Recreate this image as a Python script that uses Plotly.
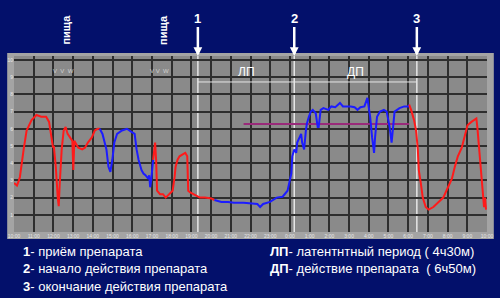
import plotly.graph_objects as go

# ---- data (hours from start of recording, pH) ----
red1_t = [0.0, 0.15, 0.25, 0.30, 0.49, 0.64, 0.89, 1.14, 1.38, 1.63, 1.78, 1.88, 1.98, 2.02, 2.12, 2.22, 2.27, 2.32,
          2.42, 2.52, 2.62, 2.72, 2.86, 2.96, 3.01, 3.06, 3.11, 3.26, 3.46, 3.60, 3.75, 3.95, 4.10, 4.25, 4.35]
red1_ph = [2.85, 2.7, 3.0, 3.2, 4.8, 5.9, 6.5, 6.8, 6.7, 6.7, 6.4, 5.5, 4.9, 5.0, 3.8, 2.0, 1.5, 2.8,
           4.8, 5.9, 6.1, 5.7, 5.5, 5.3, 3.6, 5.3, 5.2, 4.9, 4.8, 4.9, 5.2, 5.5, 5.9, 6.0, 6.0]

blue1_t = [4.35, 4.49, 4.69, 4.79, 4.89, 4.99, 5.09, 5.23, 5.48, 5.73, 5.98, 6.12, 6.22, 6.32, 6.47, 6.57, 6.67,
           6.81, 6.86, 6.91, 6.96, 7.06]
blue1_ph = [6.0, 5.7, 4.8, 3.8, 3.5, 4.2, 5.2, 5.7, 5.9, 6.0, 5.8, 5.7, 4.8, 4.2, 3.6, 3.4, 3.3,
            3.1, 3.3, 2.6, 3.0, 4.2]

red2_t = [7.06, 7.16, 7.21, 7.26, 7.41, 7.56, 7.70, 7.90, 8.05, 8.15, 8.20, 8.30, 8.40, 8.54, 8.69, 8.79, 8.84,
          8.94, 9.19, 9.43, 9.68, 10.02, 10.17]
red2_ph = [4.2, 5.2, 4.2, 2.4, 2.2, 2.2, 2.0, 2.2, 2.4, 3.2, 3.8, 4.2, 4.4, 4.5, 4.6, 4.4, 2.4,
           2.3, 2.15, 2.0, 2.0, 1.95, 1.86]

blue2_t = [10.17, 10.52, 10.86, 11.16, 11.65, 12.0, 12.35, 12.49, 12.64, 12.99, 13.33, 13.63, 13.88, 14.07, 14.12,
           14.22, 14.32, 14.37, 14.47, 14.57, 14.62, 14.72, 14.81, 14.86, 14.96, 15.06, 15.16, 15.31, 15.41, 15.46,
           15.56, 15.70, 15.95, 16.10, 16.30, 16.54, 16.69, 16.94, 17.09, 17.28, 17.43, 17.58, 17.78, 17.93, 18.02,
           18.07, 18.17, 18.27, 18.32, 18.42, 18.57, 18.77, 18.91, 19.06, 19.16, 19.26, 19.31, 19.56, 19.80, 20.0,
           20.05]
blue2_ph = [1.86, 1.75, 1.75, 1.7, 1.7, 1.68, 1.63, 1.45, 1.63, 1.75, 2.0, 2.05, 2.4, 3.4, 4.4,
            4.8, 4.6, 5.2, 5.5, 5.7, 5.2, 4.8, 5.9, 6.3, 6.7, 7.0, 7.1, 6.9, 6.1, 6.1,
            7.1, 7.2, 7.1, 7.3, 7.25, 7.5, 7.3, 7.3, 7.3, 7.25, 7.1, 7.25, 7.3, 7.8, 7.1,
            6.7, 5.5, 4.6, 5.5, 6.7, 7.0, 7.1, 7.0, 6.1, 5.2, 6.4, 7.0, 7.2, 7.3, 7.3,
            7.4]

red3_t = [20.05, 20.15, 20.30, 20.40, 20.49, 20.54, 20.64, 20.74, 20.89, 21.04, 21.28, 21.53, 21.78, 22.02, 22.22,
          22.37, 22.52, 22.72, 22.86, 23.01, 23.21, 23.36, 23.46, 23.51, 23.60, 23.70, 23.75, 23.85, 23.90, 23.95]
red3_ph = [7.4, 7.1, 6.5, 5.9, 4.8, 3.6, 2.85, 2.0, 1.45, 1.3, 1.45, 1.7, 2.0, 2.6, 3.1,
           3.8, 4.4, 4.9, 5.5, 6.2, 6.4, 6.5, 6.6, 6.1, 4.8, 3.2, 2.4, 1.45, 2.0, 1.3]

x_tick_labels = ["10:00", "11:00", "12:00", "13:00", "14:00", "15:00", "16:00", "17:00", "18:00", "19:00",
                 "20:00", "21:00", "22:00", "23:00", "0:00", "1:00", "2:00", "3:00", "4:00", "5:00",
                 "6:00", "7:00", "8:00", "9:00", "10:00"]
y_tick_vals = [1, 2, 3, 4, 5, 6, 7, 8, 9, 10]
y_tick_labels = ["1", "2", "3", "4", "5", "6", "7", "8", "9", "10"]

event_times = [9.33, 14.22, 20.44]      # 1, 2, 3
event_labels = ["1", "2", "3"]
meal_times = [2.62, 7.56]
meal_label = "пища"
level_line = (11.65, 20.05, 6.28)       # purple reference level
period_y = 8.72
period_labels = ["ЛП", "ДП"]

legend_left = ["<b>1</b>- приём препарата",
               "<b>2</b>- начало действия препарата",
               "<b>3</b>- окончание действия препарата"]
legend_right = ["<b>ЛП</b>- латентнтный период ( 4ч30м)",
                "<b>ДП</b>- действие препарата  ( 6ч50м)"]

NAVY = "#03106b"
PLOT_GRAY = "#8a8a8a"
STRIP_GRAY = "#a4a4a4"
RED = "#ff1a1a"
BLUE = "#1c1cff"
FONT = "Liberation Sans, Arial, sans-serif"

fig = go.Figure()
for t, p, c in [(red1_t, red1_ph, RED), (blue1_t, blue1_ph, BLUE), (red2_t, red2_ph, RED),
                (blue2_t, blue2_ph, BLUE), (red3_t, red3_ph, RED)]:
    fig.add_trace(go.Scatter(x=t, y=p, mode="lines", line=dict(color=c, width=2),
                             hoverinfo="skip", showlegend=False))

shapes = []
# light gray border strips around the plot area (paper coords)
for x0, x1, y0, y1 in [(-0.0144, 1.0144, 1.0, 1.017), (-0.0144, 1.0144, -0.040, 0.0),
                       (-0.0144, 0.0, 0.0, 1.0), (1.0, 1.0144, 0.0, 1.0)]:
    shapes.append(dict(type="rect", xref="paper", yref="paper", x0=x0, x1=x1, y0=y0, y1=y1,
                       fillcolor=STRIP_GRAY, line=dict(width=0), layer="below"))
# pH 4 reference line
shapes.append(dict(type="line", xref="paper", yref="y", x0=0, x1=1, y0=4, y1=4,
                   line=dict(color="#d9d9d9", width=1.5), layer="between"))
# event vertical lines
for t in event_times:
    shapes.append(dict(type="line", xref="x", yref="paper", x0=t, x1=t, y0=0, y1=1,
                       line=dict(color="#e6e6e6", width=1.5), layer="between"))
# period lines
shapes.append(dict(type="line", xref="x", yref="y", x0=event_times[0], x1=event_times[2],
                   y0=period_y, y1=period_y, line=dict(color="#e6e6e6", width=1), layer="between"))
# purple level line
shapes.append(dict(type="line", xref="x", yref="y", x0=level_line[0], x1=level_line[1],
                   y0=level_line[2], y1=level_line[2], line=dict(color="#9a2a7a", width=2), layer="between"))

annotations = []
for t, lab in zip(event_times, event_labels):
    annotations.append(dict(x=t, y=1.0, xref="x", yref="paper", text="<b>%s</b>" % lab,
                            showarrow=True, ax=0, ay=-38, arrowcolor="white", arrowwidth=2.5,
                            arrowhead=2, arrowsize=0.7, standoff=0,
                            font=dict(size=13, color="white", family=FONT)))
for t in meal_times:
    annotations.append(dict(x=t, y=1.148, xref="x", yref="paper", text="<b>%s</b>" % meal_label,
                            textangle=-90, showarrow=False, xanchor="center", yanchor="middle",
                            font=dict(size=11, color="white", family=FONT)))
annotations.append(dict(x=(event_times[0] + event_times[1]) / 2, y=9.3, xref="x", yref="y",
                        text=period_labels[0], showarrow=False,
                        font=dict(size=12, color="white", family=FONT)))
annotations.append(dict(x=(event_times[1] + event_times[2]) / 2, y=9.3, xref="x", yref="y",
                        text=period_labels[1], showarrow=False,
                        font=dict(size=12, color="white", family=FONT)))
for t, txt in [(2.5, "V  V  W"), (7.4, "V V  W")]:
    annotations.append(dict(x=t, y=9.35, xref="x", yref="y", text=txt, showarrow=False,
                            font=dict(size=6, color="#d0d0d0", family=FONT)))
for i, txt in enumerate(legend_left):
    annotations.append(dict(x=0.0144, y=[-0.108, -0.210, -0.307][i], xref="paper", yref="paper",
                            text=txt, showarrow=False, xanchor="left", yanchor="middle",
                            font=dict(size=13, color="white", family=FONT)))
for i, txt in enumerate(legend_right):
    annotations.append(dict(x=0.537, y=[-0.108, -0.210][i], xref="paper", yref="paper",
                            text=txt, showarrow=False, xanchor="left", yanchor="middle",
                            font=dict(size=13, color="white", family=FONT)))

fig.update_layout(
    width=500, height=298,
    margin=dict(l=7, r=7, t=56, b=66),
    paper_bgcolor=NAVY, plot_bgcolor=PLOT_GRAY,
    showlegend=False,
    shapes=shapes, annotations=annotations,
    xaxis=dict(range=[0, 24], tickvals=list(range(25)), ticktext=x_tick_labels,
               showgrid=True, gridcolor="#2e2e2e", gridwidth=1.5, zeroline=False,
               showline=False, ticks="", tickfont=dict(size=5, color="#e8e8e8", family=FONT),
               fixedrange=True),
    yaxis=dict(range=[0, 10.23], tickvals=y_tick_vals, ticktext=y_tick_labels,
               showgrid=True, gridcolor="#2e2e2e", gridwidth=1.5, zeroline=False,
               showline=False, ticks="", tickfont=dict(size=5, color="#e8e8e8", family=FONT),
               fixedrange=True),
)

fig.write_html("out.html", config={"displayModeBar": False})
